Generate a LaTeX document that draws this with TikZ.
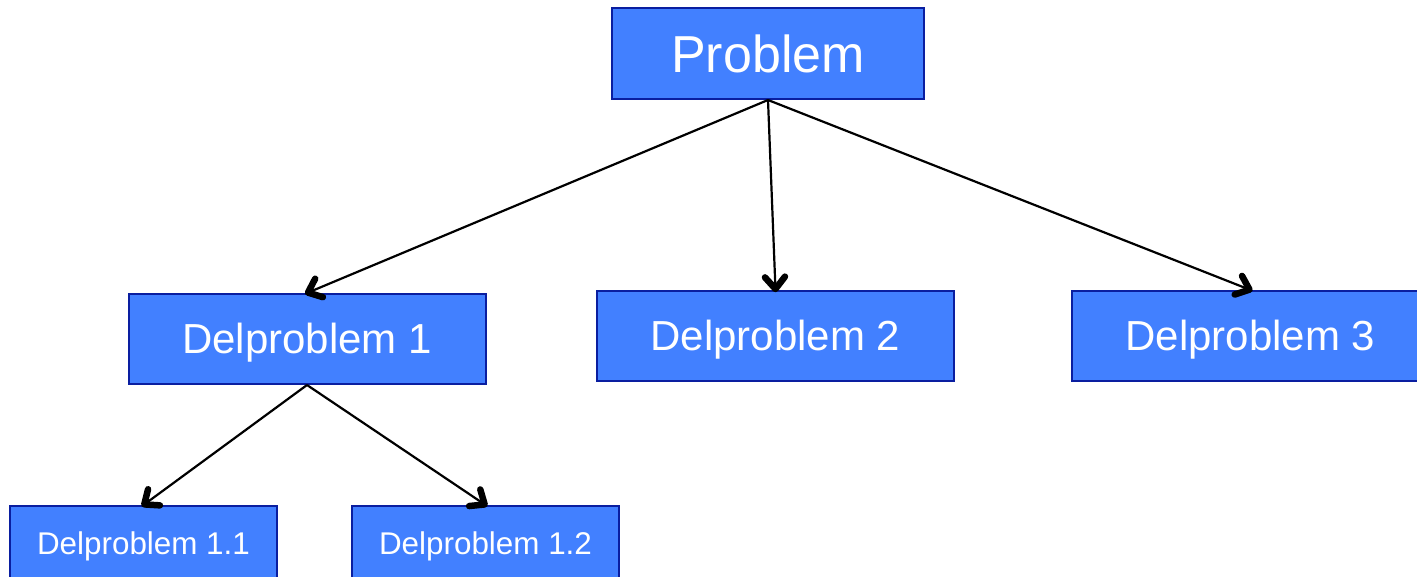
\documentclass[tikz,border=0pt]{standalone}
\usepackage{fontspec}
\setmainfont{Liberation Sans}
\usetikzlibrary{decorations.markings}
\definecolor{boxfill}{RGB}{66,128,255}
\definecolor{boxline}{RGB}{10,30,160}
\tikzset{
  box/.style={draw=boxline, fill=boxfill, line width=2pt, text=white,
    inner sep=0pt, anchor=center, text depth=0pt},
  big/.style={box, minimum width=312pt, minimum height=91pt,
    font=\fontsize{52}{60}\selectfont, text height=37.2pt},
  mid/.style={box, minimum width=357pt, minimum height=90pt,
    font=\fontsize{42}{50}\selectfont, text height=30pt},
  small/.style={box, minimum width=267pt, minimum height=75pt,
    font=\fontsize{31.4}{38}\selectfont, text height=22.5pt},
  % thin line ending in a bold open chevron
  link/.style={line width=2.2pt,
    decoration={markings, mark=at position 1 with {
      \draw[line width=6.5pt, line cap=round, line join=round]
        (-13pt,-10pt) -- (-1pt,0pt) -- (-13pt,10pt);}},
    postaction=decorate}
}
\begin{document}
\begin{tikzpicture}[x=1pt, y=-1pt]
  \useasboundingbox (0,0) rectangle (1417,577);
  \clip (0,0) rectangle (1417,577);
  \node[big] (p) at (768,53.5) {Problem};
  \node[mid] (d1) at (307,339) {Delproblem 1};
  \node[mid] (d2) at (775.5,336) {Delproblem 2};
  \node[mid] (d3) at (1250.5,336) {Delproblem 3};
  \node[small] (d11) at (143.5,543.5) {Delproblem 1.1};
  \node[small] (d12) at (485.5,543.5) {Delproblem 1.2};
  \draw[link] (p.south) -- (d1.north);
  \draw[link] (p.south) -- (d2.north);
  \draw[link] (p.south) -- (d3.north);
  \draw[link] (d1.south) -- (d11.north);
  \draw[link] (d1.south) -- (d12.north);
\end{tikzpicture}
\end{document}
